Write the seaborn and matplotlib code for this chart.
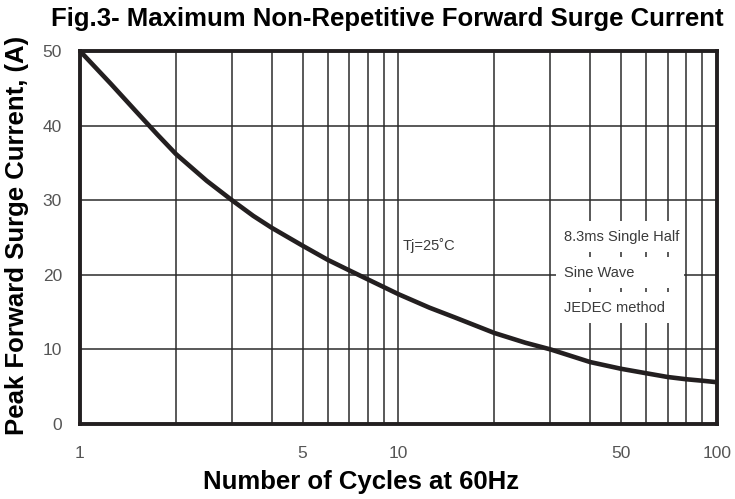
import numpy as np
import pandas as pd
import matplotlib
matplotlib.use('Agg')
import matplotlib.pyplot as plt
import seaborn as sns
from matplotlib.patches import Rectangle

# Values
cycles = [1, 1.25, 1.5, 1.75, 2, 2.5, 3, 3.5, 4, 5, 6, 7, 8, 10,
          12.5, 15, 20, 25, 30, 40, 50, 60, 70, 80, 90, 100]
surge_current = [50, 45.6, 41.9, 38.8, 36.2, 32.6, 30, 27.9, 26.3, 23.9, 22.0,
                 20.6, 19.4, 17.4, 15.6, 14.3, 12.2, 10.9, 10.0, 8.3, 7.4,
                 6.8, 6.3, 6.0, 5.8, 5.6]

x_ticks = [1, 5, 10, 50, 100]
x_grid = [2, 3, 4, 5, 6, 7, 8, 9, 10, 20, 30, 40, 50, 60, 70, 80, 90]
y_ticks = [0, 10, 20, 30, 40, 50]

note_lines = ['8.3ms Single Half', 'Sine Wave', 'JEDEC method']
note_y = [25.1, 20.3, 15.6]

sns.set_theme(style='white')
plt.rcParams['font.family'] = ['Liberation Sans', 'DejaVu Sans']

line_col = '#231f20'
grid_col = '#2b2b2b'
tick_col = '#555555'
note_col = '#3a3a3a'

df = pd.DataFrame({'cycles': cycles, 'current': surge_current})

fig = plt.figure(figsize=(7.35, 4.99), dpi=100)
ax = fig.add_axes([0.1088, 0.1503, 0.8667, 0.7475])

ax.set_xscale('log')
ax.set_xlim(1, 100)
ax.set_ylim(0, 50)

# grid lines
for gx in x_grid:
    ax.axvline(gx, color=grid_col, lw=1.1, zorder=1)
for gy in y_ticks[1:-1]:
    ax.axhline(gy, color=grid_col, lw=1.1, zorder=1)

sns.lineplot(data=df, x='cycles', y='current', ax=ax, color=line_col,
             lw=3.3, zorder=4, legend=False)

# white panels behind the note text (grid shows through between rows)
for yc in note_y:
    ax.add_patch(Rectangle((31.3, yc - 2.05), 78.9 - 31.3, 4.1,
                           facecolor='white', edgecolor='none', zorder=2))
for txt, yc in zip(note_lines, note_y):
    ax.text(33.0, yc, txt, fontsize=10.5, color=note_col,
            va='center', ha='left', zorder=3)

ax.text(10.3, 23.9, 'Tj=25\u02daC', fontsize=10.5, color=note_col,
        va='center', ha='left', zorder=3,
        bbox=dict(facecolor='white', edgecolor='none', pad=2))

ax.set_xticks(x_ticks)
ax.set_xticklabels([str(v) for v in x_ticks])
ax.xaxis.set_minor_locator(matplotlib.ticker.NullLocator())
ax.set_yticks(y_ticks)
ax.tick_params(axis='both', length=0, labelsize=12.5, labelcolor=tick_col)
ax.tick_params(axis='x', pad=16)
ax.tick_params(axis='y', pad=13)

for s in ax.spines.values():
    s.set_color(line_col)
    s.set_linewidth(2.8)
    s.set_zorder(5)

ax.set_xlabel('')
ax.set_ylabel('')

fig.text(0.527, 0.962, 'Fig.3- Maximum Non-Repetitive Forward Surge Current',
         fontsize=18.5, fontweight='bold', ha='center', va='center',
         color='black')
fig.text(0.491, 0.035, 'Number of Cycles at 60Hz', fontsize=18.5,
         fontweight='bold', ha='center', va='center', color='black')
fig.text(0.023, 0.529, 'Peak Forward Surge Current, (A)', fontsize=18.5,
         fontweight='bold', rotation=90, ha='center', va='center',
         color='black')

fig.savefig('out.png', dpi=100)
plt.close(fig)
